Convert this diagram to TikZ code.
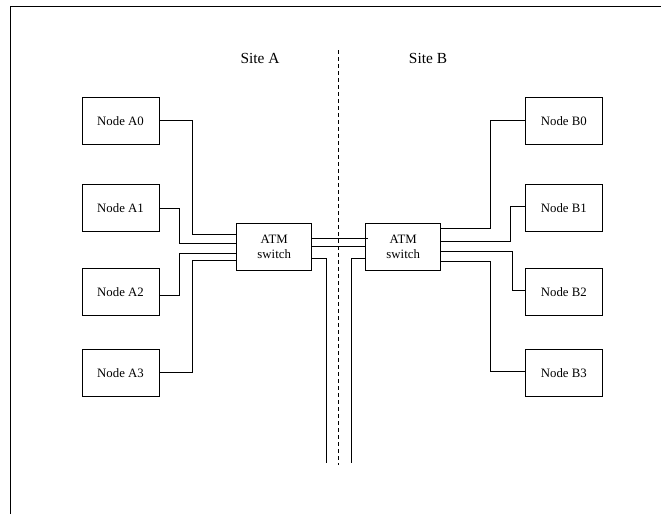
\documentclass[tikz,border=0pt]{standalone}
\usepackage{fontspec}
\setmainfont{Liberation Serif}
\begin{document}
\begin{tikzpicture}[x=1pt,y=-1pt,
  line width=0.8pt,
  hostbox/.style={draw, minimum width=77pt, minimum height=47pt, inner sep=0pt, font=\fontsize{12.8}{15}\selectfont},
  switchbox/.style={draw, minimum width=75pt, minimum height=47.4pt, inner sep=0pt, align=center, font=\fontsize{12.8}{15.5}\selectfont},
  sitelabel/.style={font=\fontsize{15.4}{18}\selectfont},
  wire/.style={draw, line width=0.8pt}]
\useasboundingbox (0,0) rectangle (661,514);
% frame
\draw (10,514) -- (10,6) -- (661,6);
% site labels
\node[sitelabel] (siteA) at (260,58) {Site A};
\node[sitelabel] (siteB) at (428,58) {Site B};
% dashed divider
\coordinate (divtop) at (338.7,50);
\coordinate (divbot) at (338.7,465);
\draw[dash pattern=on 4pt off 3pt] (divtop) -- (divbot);
% hosts A
\node[hostbox] (a0) at (120.5,120.7) {Node A0};
\node[hostbox] (a1) at (120.5,207.7) {Node A1};
\node[hostbox] (a2) at (120.5,291.7) {Node A2};
\node[hostbox] (a3) at (120.5,372.7) {Node A3};
% hosts B
\node[hostbox] (b0) at (563.8,120.7) {Node B0};
\node[hostbox] (b1) at (563.8,207.7) {Node B1};
\node[hostbox] (b2) at (563.8,291.7) {Node B2};
\node[hostbox] (b3) at (563.8,372.7) {Node B3};
% switches
\node[switchbox] (swA) at (274.2,247) {ATM\\switch};
\node[switchbox] (swB) at (403.2,247) {ATM\\switch};
% A side wires
\draw[wire] (a0.east |- 0,120) -- (192,120) |- (swA.west |- 0,234);
\draw[wire] (a1.east |- 0,208.3) -- (179.3,208.3) |- (swA.west |- 0,243.7);
\draw[wire] (a2.east |- 0,295) -- (179.3,295) |- (swA.west |- 0,253.3);
\draw[wire] (a3.east |- 0,372.7) -- (192,372.7) |- (swA.west |- 0,260.7);
% B side wires
\draw[wire] (b0.west |- 0,120) -- (490.3,120) |- (swB.east |- 0,228.3);
\draw[wire] (b1.west |- 0,206.3) -- (510.3,206.3) |- (swB.east |- 0,241);
\draw[wire] (b2.west |- 0,290) -- (512.7,290) |- (swB.east |- 0,251);
\draw[wire] (b3.west |- 0,371.7) -- (490.3,371.7) |- (swB.east |- 0,261);
% inter-switch links
\draw[wire] (swA.east |- 0,238.7) -- ([xshift=2.6pt]swB.west |- 0,238.7);
\draw[wire] (swA.east |- 0,246) -- (swB.west |- 0,246);
% outgoing lines
\coordinate (outA) at (326,463);
\coordinate (outB) at (351,463);
\draw[wire] (swA.east |- 0,258.3) -| (outA);
\draw[wire] (swB.west |- 0,258.3) -| (outB);
\end{tikzpicture}
\end{document}
